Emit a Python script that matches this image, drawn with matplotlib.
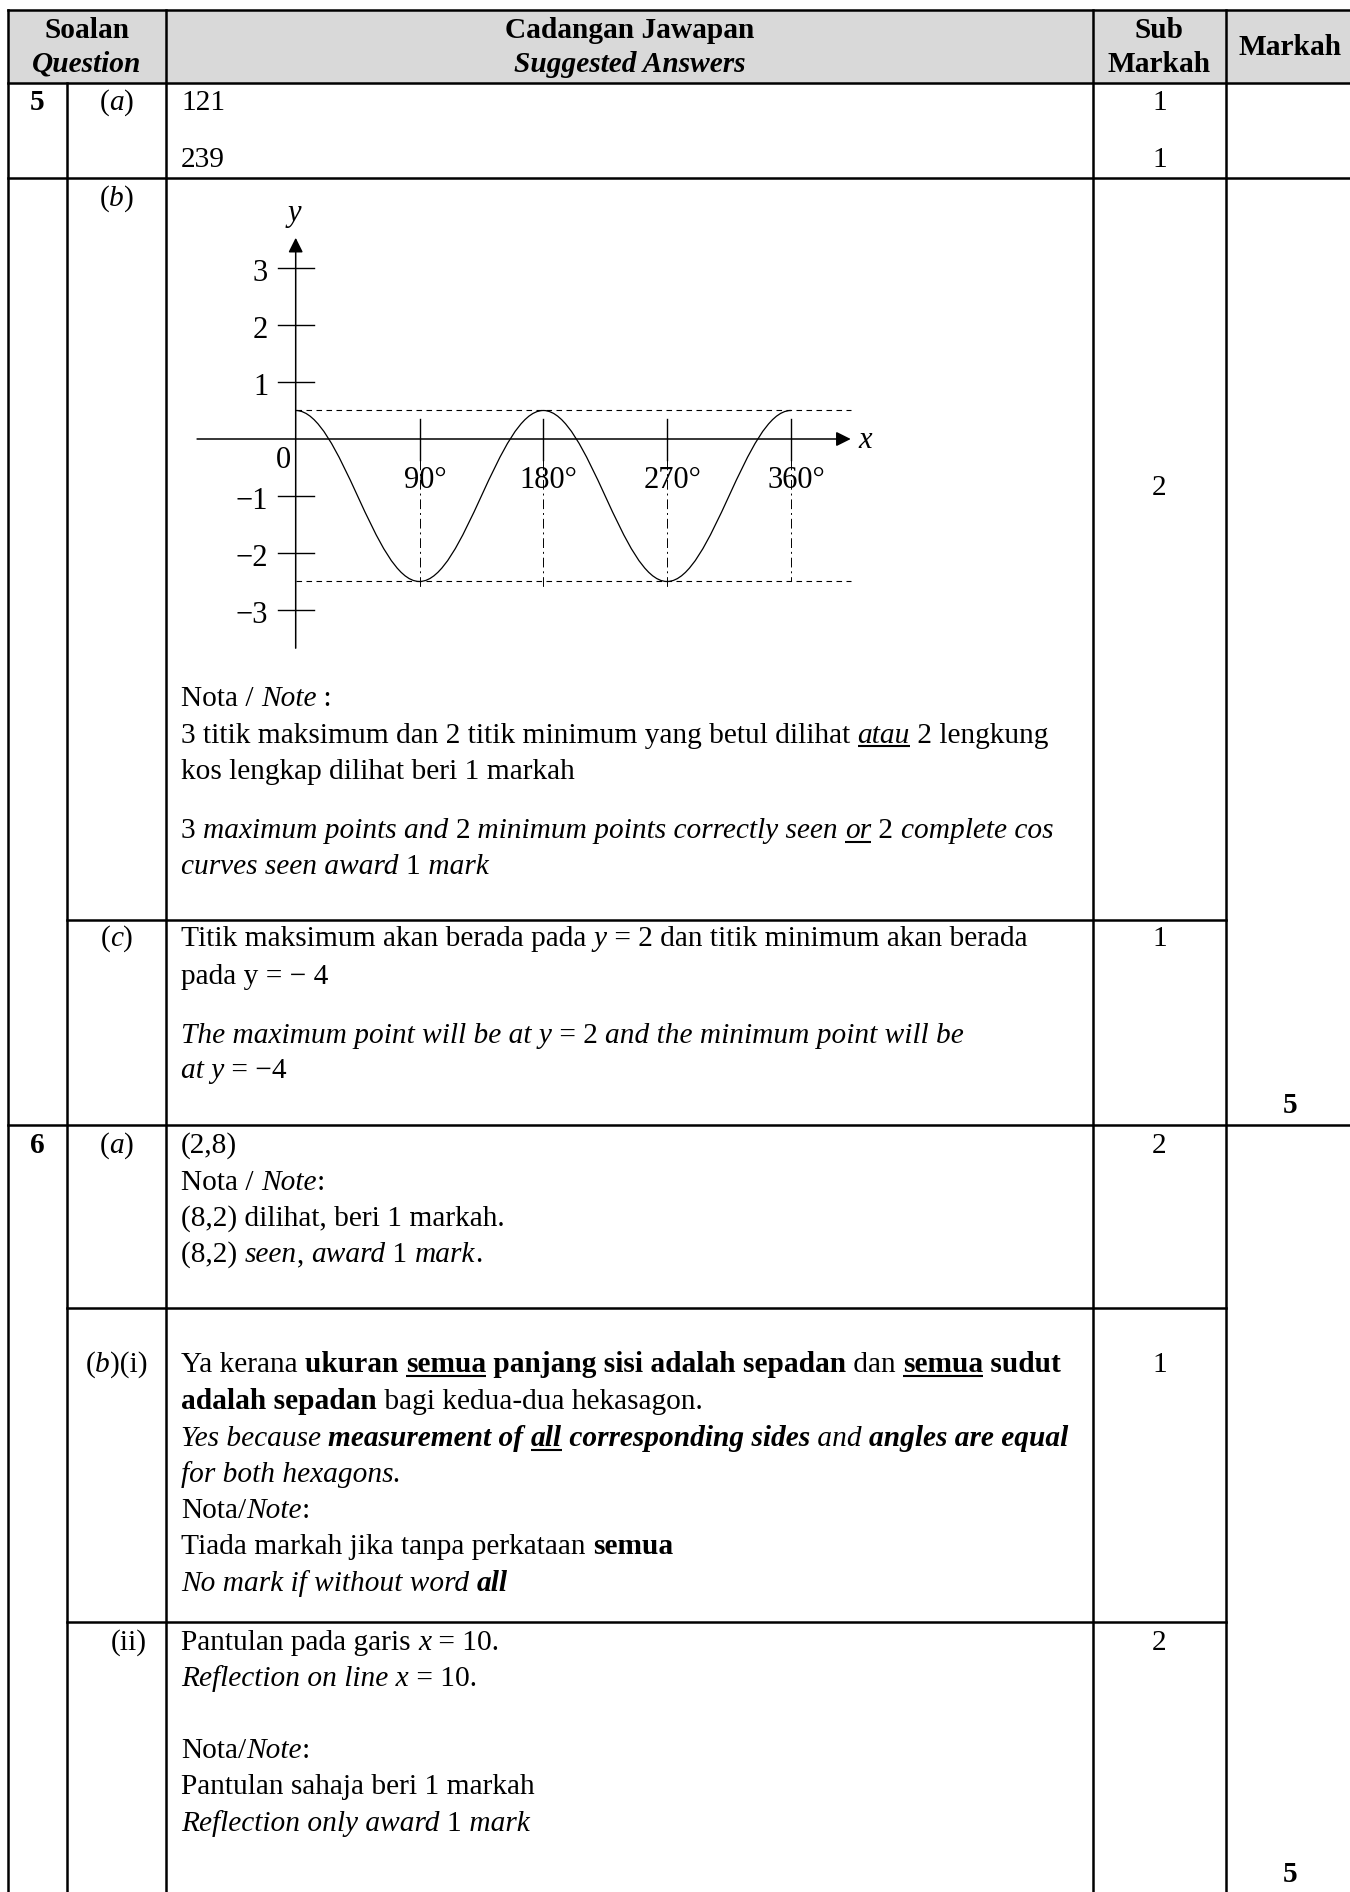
import matplotlib
matplotlib.use('Agg')
import matplotlib.pyplot as plt
from matplotlib.font_manager import FontProperties
from matplotlib.path import Path
from matplotlib.patches import PathPatch, Rectangle

# ---------------- chart data (question 5(b)) ----------------
curve_x_deg = [0, 90, 180, 270, 360]
curve_y = [0.5, -2.5, 0.5, -2.5, 0.5]
max_level = 0.5
min_level = -2.5
x_ticks_deg = [90, 180, 270, 360]
x_tick_labels = ['90°', '180°', '270°', '360°']
y_ticks = [3, 2, 1, -1, -2, -3]
y_tick_labels = ['3', '2', '1', '−1', '−2', '−3']
guide_bottom = [-2.65, -2.65, -2.65, -2.5]

# ---------------- table content ----------------
header_soalan = ['Soalan', 'Question']
header_jawapan = ['Cadangan Jawapan', 'Suggested Answers']
header_sub = ['Sub', 'Markah']
header_markah = 'Markah'
question_numbers = ['5', '6']
q5a_answers = ['121', '239']
q5a_marks = ['1', '1']
q5b_mark = '2'
q5c_mark = '1'
q6a_mark = '2'
q6bi_mark = '1'
q6bii_mark = '2'
totals = ['5', '5']

part_a = [('(', ''), ('a', 'i'), (')', '')]
part_b = [('(', ''), ('b', 'i'), (')', '')]
part_c = [('(', ''), ('c', 'i'), (')', '')]
part_bi = [('(', ''), ('b', 'i'), (')(i)', '')]
part_ii = [('(ii)', '')]

q5b_note = [
    [('Nota / ', ''), ('Note', 'i'), (' :', '')],
    [('3 titik maksimum dan 2 titik minimum yang betul dilihat ', ''), ('atau', 'iu'), (' 2 lengkung', '')],
    [('kos lengkap dilihat beri 1 markah', '')],
    [('3 ', ''), ('maximum points and ', 'i'), ('2', ''), (' minimum points correctly seen ', 'i'),
     ('or', 'iu'), (' 2 ', ''), ('complete cos', 'i')],
    [('curves seen award ', 'i'), ('1', ''), (' mark', 'i')],
]
q5c_text = [
    [('Titik maksimum akan berada pada ', ''), ('y', 'i'), (' = 2 dan titik minimum akan berada', '')],
    [('pada y = − 4', '')],
    [('The maximum point will be at y', 'i'), (' = 2 ', ''), ('and the minimum point will be', 'i')],
    [('at y', 'i'), (' = −4', '')],
]
q6a_text = [
    [('(2,8)', '')],
    [('Nota / ', ''), ('Note', 'i'), (':', '')],
    [('(8,2) dilihat, beri 1 markah.', '')],
    [('(8,2) ', ''), ('seen', 'i'), (', ', ''), ('award', 'i'), (' 1 ', ''), ('mark', 'i'), ('.', '')],
]
q6bi_text = [
    [('Ya kerana ', ''), ('ukuran ', 'b'), ('semua', 'bu'), (' panjang sisi adalah sepadan', 'b'),
     (' dan ', ''), ('semua', 'bu'), (' sudut', 'b')],
    [('adalah sepadan', 'b'), (' bagi kedua-dua hekasagon.', '')],
    [('Yes because ', 'i'), ('measurement of ', 'bi'), ('all', 'biu'), (' corresponding sides', 'bi'),
     (' and ', 'i'), ('angles are equal', 'bi')],
    [('for both hexagons.', 'i')],
    [('Nota/', ''), ('Note', 'i'), (':', '')],
    [('Tiada markah jika tanpa perkataan ', ''), ('semua', 'b')],
    [('No mark if without word ', 'i'), ('all', 'bi')],
]
q6bii_text = [
    [('Pantulan pada garis ', ''), ('x', 'i'), (' = 10.', '')],
    [('Reflection on line x', 'i'), (' = 10.', '')],
    [('Nota/', ''), ('Note', 'i'), (':', '')],
    [('Pantulan sahaja beri 1 markah', '')],
    [('Reflection only award ', 'i'), ('1', ''), (' mark', 'i')],
]

# ---------------- figure / page ----------------
W, H = 1350, 1892
FS = 21.2
SERIF = 'Liberation Serif'
fig = plt.figure(figsize=(W / 100, H / 100), dpi=100)
ax = fig.add_axes([0, 0, 1, 1])
ax.set_xlim(0, W)
ax.set_ylim(H, 0)
ax.axis('off')
renderer = fig.canvas.get_renderer()


def fprop(style, size=FS):
    return FontProperties(family=SERIF, size=size,
                          weight='bold' if 'b' in style else 'normal',
                          style='italic' if 'i' in style else 'normal')


def text_width(s, style, size=FS):
    p = fprop(style, size)
    w1, _, _ = renderer.get_text_width_height_descent('|' + s + '|', p, ismath=False)
    w2, _, _ = renderer.get_text_width_height_descent('||', p, ismath=False)
    return (w1 - w2)


def draw_runs(x, yb, runs, ha='left', size=FS):
    total = sum(text_width(t, s, size) for t, s in runs)
    if ha == 'center':
        x = x - total / 2
    elif ha == 'right':
        x = x - total
    for t, s in runs:
        w = text_width(t, s, size)
        ax.text(x, yb, t, fontproperties=fprop(s, size), va='baseline', ha='left',
                color='black', parse_math=False)
        if 'u' in s:
            ax.plot([x, x + w], [yb + 4, yb + 4], color='black', lw=1.5,
                    solid_capstyle='butt')
        x += w


# table geometry (pixels)
X0, X1, X2, X3, X4 = 8, 67, 166, 1093, 1226
Y_TOP, Y_HEAD = 10, 83
Y_5A, Y_5B, Y_5C, Y_6A, Y_6BI = 178, 920, 1125, 1308, 1622
LW = 1.8

ax.add_patch(Rectangle((X0, Y_TOP), W - X0, Y_HEAD - Y_TOP, facecolor='#d9d9d9',
                       edgecolor='none', zorder=0))
hlines = [(Y_TOP, X0, W), (Y_HEAD, X0, W), (Y_5A, X0, W), (Y_5B, X1, X4),
          (Y_5C, X0, W), (Y_6A, X1, X4), (Y_6BI, X1, X4)]
for y, xa, xb in hlines:
    ax.plot([xa, xb], [y, y], color='black', lw=LW, solid_capstyle='projecting')
vlines = [(X0, Y_TOP), (X1, Y_HEAD), (X2, Y_TOP), (X3, Y_TOP), (X4, Y_TOP)]
for x, ya in vlines:
    ax.plot([x, x], [ya, H + 5], color='black', lw=LW, solid_capstyle='projecting')

# header
CX_Q = (X0 + X2) / 2
CX_A = (X2 + X3) / 2
CX_S = (X3 + X4) / 2
CX_M = 1290
draw_runs(CX_Q, 38, [(header_soalan[0], 'b')], ha='center')
draw_runs(CX_Q, 72, [(header_soalan[1], 'bi')], ha='center')
draw_runs(CX_A, 38, [(header_jawapan[0], 'b')], ha='center')
draw_runs(CX_A, 72, [(header_jawapan[1], 'bi')], ha='center')
draw_runs(CX_S, 38, [(header_sub[0], 'b')], ha='center')
draw_runs(CX_S, 72, [(header_sub[1], 'b')], ha='center')
draw_runs(CX_M, 55, [(header_markah, 'b')], ha='center')

TX = 181
CX_P = (X1 + X2) / 2
CX_N = 37.5


def base(c):
    return c + 9


# question 5
draw_runs(CX_N, base(101), [(question_numbers[0], 'b')], ha='center')
draw_runs(CX_P, base(101), part_a, ha='center')
for yc, ans, mk in zip([101, 158], q5a_answers, q5a_marks):
    draw_runs(TX, base(yc), [(ans, '')])
    draw_runs(CX_S, base(yc), [(mk, '')], ha='center')

draw_runs(CX_P, base(197), part_b, ha='center')
draw_runs(CX_S, base(486), [(q5b_mark, '')], ha='center')
for yc, runs in zip([697, 733.5, 770, 829, 865], q5b_note):
    draw_runs(TX, base(yc), runs)

draw_runs(CX_P, base(937), part_c, ha='center')
draw_runs(CX_S, base(937), [(q5c_mark, '')], ha='center')
for yc, runs in zip([937, 975, 1034, 1069], q5c_text):
    draw_runs(TX, base(yc), runs)
draw_runs(CX_M, base(1104), [(totals[0], 'b')], ha='center')

# question 6
draw_runs(CX_N, base(1144), [(question_numbers[1], 'b')], ha='center')
draw_runs(CX_P, base(1144), part_a, ha='center')
draw_runs(CX_S, base(1144), [(q6a_mark, '')], ha='center')
for yc, runs in zip([1144, 1181, 1217, 1253], q6a_text):
    draw_runs(TX, base(yc), runs)

draw_runs(CX_P, base(1363), part_bi, ha='center')
draw_runs(CX_S, base(1363), [(q6bi_mark, '')], ha='center')
for yc, runs in zip([1363, 1400, 1437, 1473, 1509, 1545, 1582], q6bi_text):
    draw_runs(TX, base(yc), runs)

draw_runs(147, base(1641), part_ii, ha='right')
draw_runs(CX_S, base(1641), [(q6bii_mark, '')], ha='center')
for yc, runs in zip([1641, 1677, 1749, 1785, 1822], q6bii_text):
    draw_runs(TX, base(yc), runs)
draw_runs(CX_M, base(1873), [(totals[1], 'b')], ha='center')

# ---------------- the cosine graph ----------------
ORIG_PX, ORIG_PY = 295.7, 439.0
PX_DEG, PX_UNIT = 123.8 / 90, 57.0
XL, XR, YB, YT = -80, 450, -3.9, 4.3
left_px = ORIG_PX + XL * PX_DEG
top_px = ORIG_PY - YT * PX_UNIT
wpx = (XR - XL) * PX_DEG
hpx = (YT - YB) * PX_UNIT
gx = fig.add_axes([left_px / W, 1 - (top_px + hpx) / H, wpx / W, hpx / H])
gx.set_xlim(XL, XR)
gx.set_ylim(YB, YT)
gx.axis('off')
gx.patch.set_alpha(0)

CFS = 22
# axes with arrows
gx.annotate('', xy=(403.5, 0), xytext=(-71.7, 0),
            arrowprops=dict(arrowstyle='-|>', color='black', lw=1.1,
                            mutation_scale=22, shrinkA=0, shrinkB=0))
gx.annotate('', xy=(0, 3.53), xytext=(0, -3.67),
            arrowprops=dict(arrowstyle='-|>', color='black', lw=1.1,
                            mutation_scale=22, shrinkA=0, shrinkB=0))
gx.text(-1, 3.95, 'y', fontproperties=fprop('i', CFS), ha='center', va='center')
gx.text(414, -0.02, 'x', fontproperties=fprop('i', CFS), ha='center', va='center')

# y ticks
for yv, lab in zip(y_ticks, y_tick_labels):
    gx.plot([-13, 13], [yv, yv], color='black', lw=1.0)
    gx.text(-20, yv - 0.1, lab, fontproperties=fprop('', CFS), ha='right', va='center')
gx.text(-9, -0.37, '0', fontproperties=fprop('', CFS), ha='center', va='center')

# x ticks + guides
for xv, lab, yb in zip(x_ticks_deg, x_tick_labels, guide_bottom):
    gx.plot([xv, xv], [0.35, -0.37], color='black', lw=1.0)
    gx.plot([xv, xv], [-0.37, yb], color='black', lw=0.7,
            linestyle=(0, (10, 4, 2, 4)))
    gx.text(xv + 4, -0.72, lab, fontproperties=fprop('', CFS), ha='center', va='center')

# dashed max/min levels
for lvl in (max_level, min_level):
    gx.plot([0, 404], [lvl, lvl], color='black', lw=0.8, linestyle=(0, (5, 4)))

# cosine curve as cubic Bezier segments through the extreme points
K = 0.3634
verts = [(curve_x_deg[0], curve_y[0])]
codes = [Path.MOVETO]
for i in range(len(curve_x_deg) - 1):
    xa, ya = curve_x_deg[i], curve_y[i]
    xb, yb2 = curve_x_deg[i + 1], curve_y[i + 1]
    dx = xb - xa
    verts += [(xa + K * dx, ya), (xb - K * dx, yb2), (xb, yb2)]
    codes += [Path.CURVE4] * 3
gx.add_patch(PathPatch(Path(verts, codes), facecolor='none', edgecolor='black', lw=0.9))

fig.savefig('out.png', dpi=100)
